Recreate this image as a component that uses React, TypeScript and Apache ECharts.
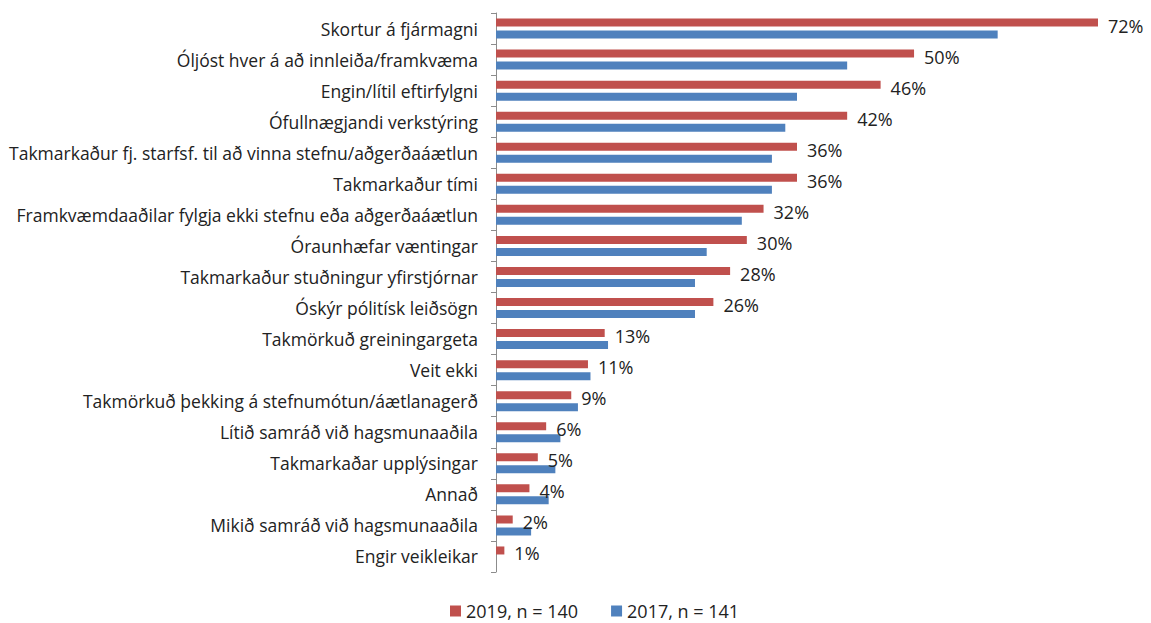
import React, { useEffect, useRef } from "react";
import * as echarts from "echarts";

const categories = [
  "Skortur á fjármagni",
  "Óljóst hver á að innleiða/framkvæma",
  "Engin/lítil eftirfylgni",
  "Ófullnægjandi verkstýring",
  "Takmarkaður fj. starfsf. til að vinna stefnu/aðgerðaáætlun",
  "Takmarkaður tími",
  "Framkvæmdaaðilar fylgja ekki stefnu eða aðgerðaáætlun",
  "Óraunhæfar væntingar",
  "Takmarkaður stuðningur yfirstjórnar",
  "Óskýr pólitísk leiðsögn",
  "Takmörkuð greiningargeta",
  "Veit ekki",
  "Takmörkuð þekking á stefnumótun/áætlanagerð",
  "Lítið samráð við hagsmunaaðila",
  "Takmarkaðar upplýsingar",
  "Annað",
  "Mikið samráð við hagsmunaaðila",
  "Engir veikleikar",
];

const values2019 = [72, 50, 46, 42, 36, 36, 32, 30, 28, 26, 13, 11, 9, 6, 5, 4, 2, 1];
const values2017 = [60, 42, 36, 34.6, 33, 33, 29.4, 25.2, 23.8, 23.8, 13.4, 11.3, 9.8, 7.7, 7.1, 6.3, 4.2, 0];

const seriesNames = ["2019, n = 140", "2017, n = 141"];

const FONT = "'Open Sans', 'Liberation Sans', sans-serif";

export default function App() {
  const ref = useRef<HTMLDivElement>(null);
  useEffect(() => {
    document.body.style.margin = "0";
    const chart = echarts.init(ref.current!, null, { renderer: "svg" });
    chart.setOption({
      animation: false,
      backgroundColor: "#ffffff",
      textStyle: { fontFamily: FONT },
      grid: { left: 496, right: 53, top: 13, bottom: 51, containLabel: false },
      legend: {
        top: 601,
        left: 450,
        padding: 0,
        itemWidth: 11,
        itemHeight: 11,
        itemGap: 33,
        icon: "rect",
        textStyle: { fontSize: 18, lineHeight: 20, color: "#222", fontFamily: FONT },
        data: seriesNames,
      },
      xAxis: {
        type: "value",
        min: 0,
        max: 72,
        show: false,
        splitLine: { show: false },
      },
      yAxis: {
        type: "category",
        inverse: true,
        data: categories,
        axisLine: { show: true, lineStyle: { color: "#8c8c8c", width: 1 } },
        axisTick: { show: true, length: 5, lineStyle: { color: "#8c8c8c" } },
        axisLabel: { margin: 18, fontSize: 17.5, color: "#222", fontFamily: FONT },
      },
      series: [
        {
          name: seriesNames[0],
          type: "bar",
          data: values2019,
          barWidth: 8,
          barGap: "50%",
          itemStyle: { color: "#c0504d" },
          label: {
            show: true,
            position: "right",
            distance: 10,
            offset: [0, 3],
            formatter: (p: any) => p.value + "%",
            fontSize: 18,
            color: "#222",
            fontFamily: FONT,
          },
        },
        {
          name: seriesNames[1],
          type: "bar",
          data: values2017,
          barWidth: 8,
          itemStyle: { color: "#4f81bd" },
        },
      ],
    });
    return () => chart.dispose();
  }, []);
  return <div ref={ref} style={{ width: 1151, height: 623 }} />;
}
